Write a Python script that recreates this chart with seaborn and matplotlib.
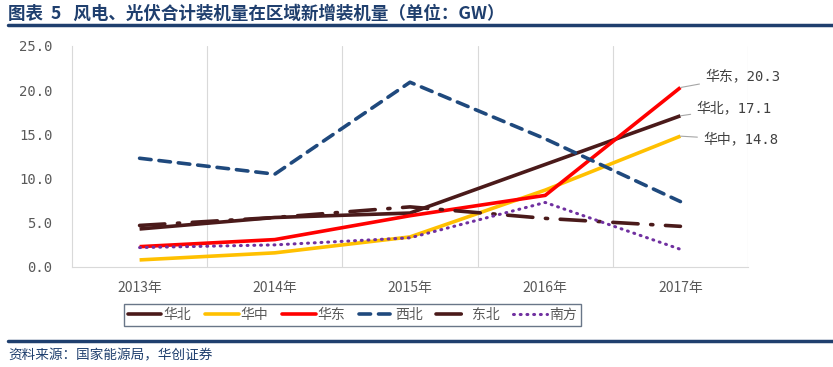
import pandas as pd
import matplotlib.pyplot as plt
import seaborn as sns
from matplotlib.lines import Line2D

# --- data (GW) ---
years = ['2013年', '2014年', '2015年', '2016年', '2017年']
huabei = [4.3, 5.6, 6.1, 11.6, 17.1]
huazhong = [0.8, 1.6, 3.4, 8.7, 14.8]
huadong = [2.3, 3.1, 5.8, 8.1, 20.3]
xibei = [12.3, 10.5, 20.9, 14.5, 7.4]
dongbei = [4.7, 5.6, 6.8, 5.5, 4.6]
nanfang = [2.2, 2.5, 3.3, 7.3, 2.0]

series = {'华北': huabei, '华中': huazhong, '华东': huadong,
          '西北': xibei, '东北': dongbei, '南方': nanfang}

rows = []
for name, vals in series.items():
    for i, v in enumerate(vals):
        rows.append({'region': name, 'x': i, 'value': v})
df = pd.DataFrame(rows)

sns.set_theme(style='white')
plt.rcParams['font.family'] = ['Noto Sans CJK SC', 'DejaVu Sans']
mono = ['DejaVu Sans Mono', 'Noto Sans CJK SC']

navy = '#1F3F6E'
brown = '#4A1A1A'
styles = {
    '华北': dict(color=brown, ls='-', lw=2.6),
    '华中': dict(color='#FFC000', ls='-', lw=2.6),
    '华东': dict(color='#FF0000', ls='-', lw=2.6),
    '西北': dict(color='#1F497D', ls=(0, (3.2, 2.2)), lw=2.6),
    '东北': dict(color=brown, ls=(0, (7, 3.5, 0.6, 3.5)), lw=2.6),
    '南方': dict(color='#7030A0', ls=(0, (0.3, 1.9)), lw=2.2),
}

fig = plt.figure(figsize=(8.33, 3.67), dpi=100)
ax = fig.add_axes([0.0864, 0.2725, 0.8116, 0.6022])

for name in series:
    st = styles[name]
    sns.lineplot(data=df[df.region == name], x='x', y='value', ax=ax,
                 color=st['color'], linestyle=st['ls'], linewidth=st['lw'],
                 legend=False, dash_capstyle='round', solid_capstyle='butt')

ax.set_xlim(-0.5, 4.5)
ax.set_ylim(0, 25)
ax.set_yticks([0, 5, 10, 15, 20, 25])
ax.set_yticklabels([f'{v:.1f}' for v in [0, 5, 10, 15, 20, 25]],
                   family=mono)
ax.set_xticks(range(5))
ax.set_xticklabels(years)
ax.set_xlabel('')
ax.set_ylabel('')
ax.tick_params(axis='both', length=0, labelsize=10, colors='#595959')
ax.tick_params(axis='y', pad=14)
ax.tick_params(axis='x', pad=10)
for x in [0.5, 1.5, 2.5, 3.5, 4.5]:
    ax.axvline(x, color='#D9D9D9', lw=0.8, zorder=0)
for s in ['top', 'right']:
    ax.spines[s].set_visible(False)
ax.spines['left'].set_color('#D9D9D9')
ax.spines['bottom'].set_color('#D9D9D9')
ax.spines['left'].set_linewidth(0.8)
ax.spines['bottom'].set_linewidth(0.8)

# end labels
labels = [('华东', huadong[-1], 4.185, 21.6),
          ('华北', huabei[-1], 4.12, 18.0),
          ('华中', huazhong[-1], 4.17, 14.4)]
for name, v, tx, ty in labels:
    ax.annotate(f'{name}，{v:.1f}', xy=(4, v), xytext=(tx, ty),
                textcoords='data', fontsize=10, color='#404040', va='center',
                family=mono, annotation_clip=False,
                arrowprops=dict(arrowstyle='-', color='#A6A6A6', lw=0.8,
                                shrinkA=2, shrinkB=0))

# legend
handles = []
for name in series:
    st = styles[name]
    handles.append(Line2D([0], [0], color=st['color'], ls=st['ls'], lw=st['lw'],
                          dash_capstyle='round'))
leg = fig.legend(handles, list(series.keys()), loc='center', ncol=6,
                 bbox_to_anchor=(0.423, 0.142), frameon=True, fontsize=10,
                 handlelength=2.4, handletextpad=0.15, columnspacing=1.0,
                 borderpad=0.3, fancybox=False)
leg.get_frame().set_edgecolor('#44546A')
leg.get_frame().set_linewidth(1.0)
for t in leg.get_texts():
    t.set_color('#595959')

# header / footer
fig.text(0.01, 0.962, '图表  5   风电、光伏合计装机量在区域新增装机量（单位：GW）',
         fontsize=12.6, fontweight='bold', color=navy, va='center')
fig.add_artist(Line2D([0.01, 1.0], [0.932, 0.932], color=navy, lw=2.5))
fig.add_artist(Line2D([0.01, 1.0], [0.07, 0.07], color=navy, lw=2.5))
fig.text(0.01, 0.032, '资料来源：国家能源局，华创证券', fontsize=9.8,
         style='italic', color=navy, va='center')

fig.savefig('out.png', dpi=100)
